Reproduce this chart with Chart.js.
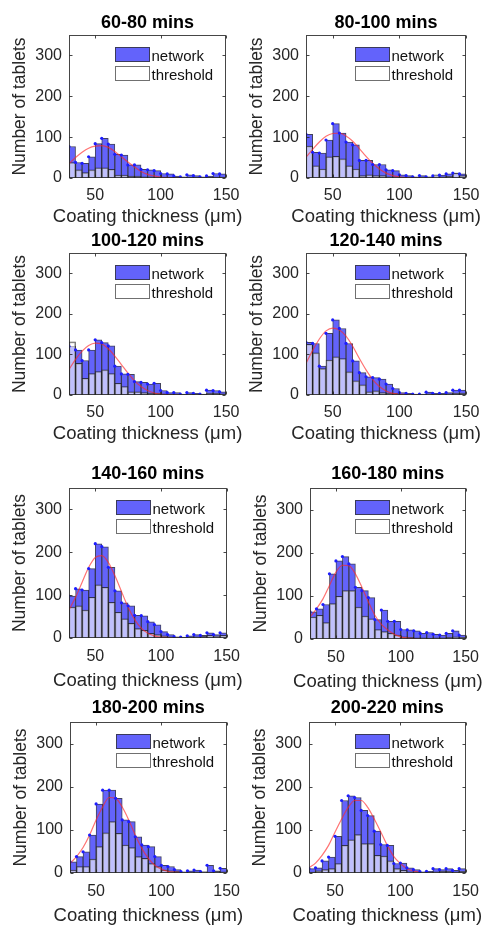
<!DOCTYPE html>
<html>
<head>
<meta charset="utf-8">
<script src="https://cdn.jsdelivr.net/npm/chart.js@4.4.0/dist/chart.umd.min.js"></script>
<style>
  html, body { margin: 0; padding: 0; background: #fff; }
  body { width: 487px; height: 925px; position: relative; overflow: hidden; }
  canvas { position: absolute; }
</style>
</head>
<body>
<script>
// bins of 5 um from 30 to 150
const binCenters = [32.5, 37.5, 42.5, 47.5, 52.5, 57.5, 62.5, 67.5, 72.5, 77.5, 82.5, 87.5,
  92.5, 97.5, 102.5, 107.5, 112.5, 117.5, 122.5, 127.5, 132.5, 137.5, 142.5, 147.5];
const binStarts = [30, 35, 40, 45, 50, 55, 60, 65, 70, 75, 80, 85,
  90, 95, 100, 105, 110, 115, 120, 125, 130, 135, 140, 145];
const fitX = [30, 35, 40, 45, 50, 55, 60, 65, 70, 75, 80, 85, 90, 95, 100, 105, 110, 115];
const xTicks = [50, 100, 150];
const yTicks = [0, 100, 200, 300];
const xAxisTitle = "Coating thickness (\u03bcm)";
const yAxisTitle = "Number of tablets";

const panelTitles = ["60-80 mins", "80-100 mins", "100-120 mins", "120-140 mins",
  "140-160 mins", "160-180 mins", "180-200 mins", "200-220 mins"];

const network6080 = [77, 38, 36, 52, 84, 97, 83, 58, 56, 32, 32, 21, 20, 18, 11, 10, 5, 3, 8, 6, 3, 5, 11, 10];
const threshold6080 = [38, 20, 13, 20, 25, 25, 21, 7, 7, 5, 5, 3, 3, 2, 2, 1, 1, 1, 1, 1, 1, 1, 2, 2];
const fit6080 = [35, 50, 63, 73, 78, 79, 75, 65, 52, 39, 27, 16, 9, 5, 2, 1, 0, 0];

const network80100 = [107, 63, 61, 93, 133, 110, 88, 81, 43, 43, 33, 33, 20, 18, 8, 6, 3, 6, 3, 5, 7, 10, 12, 10];
const threshold80100 = [78, 30, 22, 52, 53, 47, 30, 22, 6, 8, 6, 6, 3, 3, 2, 2, 1, 2, 2, 8, 3, 4, 12, 6];
const fit80100 = [51, 70, 88, 102, 109, 110, 103, 90, 72, 53, 36, 22, 12, 6, 3, 1, 0, 0];

const network100120 = [120, 111, 85, 111, 136, 129, 121, 71, 52, 51, 33, 31, 27, 29, 11, 6, 6, 2, 6, 4, 2, 12, 11, 8];
const threshold100120 = [131, 78, 41, 53, 58, 62, 53, 29, 21, 8, 8, 6, 5, 5, 3, 2, 2, 1, 2, 2, 1, 4, 4, 3];
const fit100120 = [63, 88, 108, 122, 128, 126, 114, 96, 75, 54, 35, 21, 11, 5, 2, 1, 0, 0];

const network120140 = [130, 127, 71, 152, 185, 164, 127, 84, 55, 45, 43, 39, 27, 16, 6, 4, 2, 2, 7, 4, 4, 6, 12, 12];
const threshold120140 = [125, 104, 65, 86, 94, 90, 57, 35, 25, 8, 10, 6, 5, 4, 2, 2, 1, 1, 3, 2, 2, 3, 4, 5];
const fit120140 = [78, 110, 138, 158, 165, 160, 145, 120, 90, 62, 38, 21, 10, 4, 2, 1, 0, 0];

const network140160 = [98, 115, 112, 162, 220, 213, 165, 110, 82, 75, 53, 52, 38, 31, 15, 8, 3, 2, 5, 8, 6, 12, 8, 12];
const threshold140160 = [72, 75, 65, 95, 124, 118, 83, 60, 45, 34, 22, 18, 11, 8, 5, 3, 2, 1, 2, 3, 4, 6, 5, 6];
const fit140160 = [66, 95, 130, 165, 188, 192, 176, 145, 108, 72, 43, 23, 11, 5, 2, 1, 0, 0];

const network160180 = [63, 70, 80, 151, 181, 191, 174, 120, 112, 96, 45, 67, 41, 41, 22, 21, 19, 13, 15, 11, 9, 13, 19, 9];
const threshold160180 = [51, 55, 38, 82, 99, 112, 112, 74, 53, 47, 22, 17, 13, 9, 5, 4, 3, 3, 2, 3, 3, 4, 5, 4];
const fit160180 = [51, 70, 93, 124, 155, 171, 170, 151, 120, 86, 55, 34, 21, 11, 5, 2, 1, 0];

const network180200 = [26, 38, 49, 88, 160, 192, 192, 173, 123, 119, 84, 65, 61, 38, 18, 15, 8, 3, 5, 7, 3, 18, 5, 11];
const threshold180200 = [7, 15, 15, 32, 61, 93, 119, 92, 65, 59, 38, 34, 22, 15, 7, 5, 4, 2, 3, 3, 3, 2, 4, 3];
const fit180200 = [22, 38, 59, 88, 123, 153, 175, 173, 153, 123, 88, 57, 34, 18, 9, 4, 2, 1];

const network200220 = [10, 12, 28, 37, 85, 168, 179, 175, 145, 133, 97, 66, 64, 22, 23, 12, 8, 3, 4, 10, 8, 10, 6, 10];
const threshold200220 = [2, 5, 8, 10, 22, 64, 77, 89, 68, 68, 41, 39, 28, 10, 6, 3, 3, 2, 2, 3, 4, 4, 3, 4];
const fit200220 = [12, 23, 41, 64, 95, 125, 152, 168, 168, 152, 125, 95, 64, 38, 22, 10, 5, 2];

const networkSets = [network6080, network80100, network100120, network120140,
  network140160, network160180, network180200, network200220];
const thresholdSets = [threshold6080, threshold80100, threshold100120, threshold120140,
  threshold140160, threshold160180, threshold180200, threshold200220];
const fitSets = [fit6080, fit80100, fit100120, fit120140,
  fit140160, fit160180, fit180200, fit200220];

// plot box of every panel in page pixels: left, top, right, bottom
const panelBoxes = [
  [69, 35, 230, 178], [306, 35, 470, 178],
  [69, 253, 230, 395], [306, 253, 470, 395],
  [69, 488, 232, 638], [310, 488, 471, 639],
  [70, 722, 232, 873], [309, 722, 471, 873]
];

const FONT = "'Liberation Sans', Arial, sans-serif";
const Y_AXIS_W = 59;
const RIGHT_PAD = 17;

const boxPlugin = {
  id: "box",
  afterDatasetsDraw(chart) {
    const { ctx, chartArea: a, scales } = chart;
    const l = Math.round(a.left) + 0.5, r = Math.round(a.right) - 0.5;
    const t = Math.round(a.top) + 0.5, b = Math.round(a.bottom) - 0.5;
    ctx.save();
    ctx.strokeStyle = "rgba(38,38,38,0.85)";
    ctx.lineWidth = 1;
    ctx.strokeRect(l, t, r - l, b - t);
    ctx.beginPath();
    scales.x.ticks.forEach((tk) => {
      const px = Math.round(scales.x.getPixelForValue(tk.value)) + 0.5;
      ctx.moveTo(px, b); ctx.lineTo(px, b - 3);
      ctx.moveTo(px, t); ctx.lineTo(px, t + 3);
    });
    scales.y.ticks.forEach((tk) => {
      const py = Math.round(scales.y.getPixelForValue(tk.value)) + 0.5;
      ctx.moveTo(l, py); ctx.lineTo(l + 3, py);
      ctx.moveTo(r, py); ctx.lineTo(r - 3, py);
    });
    ctx.stroke();
    ctx.restore();
  }
};

// x title drawn here so that it can run wider than the plot box, as in the original
const xTitlePlugin = {
  id: "xTitle",
  afterDraw(chart) {
    const { ctx, chartArea: a } = chart;
    ctx.save();
    ctx.fillStyle = "#262626";
    ctx.font = "18.5px " + FONT;
    ctx.textAlign = "center";
    ctx.textBaseline = "middle";
    ctx.fillText(xAxisTitle, (a.left + a.right) / 2, chart.height - 10);
    ctx.restore();
  }
};

const legendPlugin = {
  id: "innerLegend",
  afterDraw(chart) {
    const { ctx, chartArea: a } = chart;
    const items = ["network", "threshold"].map((name) =>
      chart.data.datasets.find((d) => d.label === name));
    ctx.save();
    items.forEach((ds, i) => {
      const x = Math.round(a.right) - 111 + 0.5;
      const y = Math.round(a.top) + 12 + i * 19 + 0.5;
      ctx.fillStyle = "#fff";
      ctx.fillRect(x, y, 34, 14);
      ctx.fillStyle = ds.backgroundColor;
      ctx.fillRect(x, y, 34, 14);
      ctx.strokeStyle = i === 0 ? "#3a3a5a" : "#707070";
      ctx.lineWidth = 1;
      ctx.strokeRect(x, y, 34, 14);
      ctx.fillStyle = "#111";
      ctx.font = "15px " + FONT;
      ctx.textBaseline = "alphabetic";
      ctx.fillText(ds.label, x + 36, y + 13);
    });
    ctx.restore();
  }
};

function makeChart(i) {
  const [L, T, R, B] = panelBoxes[i];
  const lowerRows = i >= 4;
  const titleGap = lowerRows ? 4 : 2;
  const xAxisH = lowerRows ? 53 : 49;
  const tickPad = lowerRows ? 9 : 7.5;
  const left = L - Y_AXIS_W;
  const top = T - (20 + titleGap);
  const w = R + RIGHT_PAD - left;
  const h = B + xAxisH - top;

  const canvas = document.createElement("canvas");
  canvas.width = w;
  canvas.height = h;
  canvas.style.left = left + "px";
  canvas.style.top = top + "px";
  document.body.appendChild(canvas);

  const net = networkSets[i], thr = thresholdSets[i], fit = fitSets[i];

  new Chart(canvas, {
    type: "bar",
    data: {
      datasets: [
        {
          type: "line",
          label: "points",
          data: binStarts.map((x, k) => ({ x: x, y: net[k] })),
          showLine: false,
          pointRadius: 1.6,
          pointBackgroundColor: "#1c1cff",
          pointBorderWidth: 0,
          order: -1
        },
        {
          type: "line",
          label: "fit",
          data: fitX.map((x, k) => ({ x: x, y: fit[k] })),
          borderColor: "rgba(255,40,40,0.65)",
          borderWidth: 1.2,
          pointRadius: 0,
          cubicInterpolationMode: "monotone",
          order: 0
        },
        {
          label: "threshold",
          data: binCenters.map((x, k) => ({ x: x, y: thr[k] })),
          backgroundColor: "rgba(255,255,255,0.6)",
          borderColor: "rgba(30,30,30,0.75)",
          borderWidth: 1,
          order: 1
        },
        {
          label: "network",
          data: binCenters.map((x, k) => ({ x: x, y: net[k] })),
          backgroundColor: "#6363fb",
          borderColor: "rgba(20,20,50,0.8)",
          borderWidth: 1,
          order: 2
        }
      ]
    },
    options: {
      responsive: false,
      animation: false,
      grouped: false,
      barPercentage: 1,
      categoryPercentage: 1,
      layout: { padding: { left: 0, right: RIGHT_PAD, top: 0, bottom: 0 } },
      plugins: {
        legend: { display: false },
        tooltip: { enabled: false },
        title: {
          display: true,
          text: panelTitles[i],
          fullSize: false,
          color: "#000",
          font: { family: FONT, size: 18, weight: "bold", lineHeight: "20px" },
          padding: { top: 0, bottom: titleGap }
        }
      },
      scales: {
        x: {
          type: "linear",
          min: 30,
          max: 150,
          offset: false,
          grid: { display: false, drawTicks: false, offset: false },
          border: { display: false },
          afterBuildTicks: (s) => { s.ticks = xTicks.map((v) => ({ value: v })); },
          afterFit: (s) => { s.height = xAxisH; },
          ticks: {
            color: "#262626",
            padding: tickPad,
            maxRotation: 0,
            font: { family: FONT, size: 16 }
          },
          title: { display: false }
        },
        y: {
          min: 0,
          max: 350,
          grid: { display: false, drawTicks: false },
          border: { display: false },
          afterBuildTicks: (s) => { s.ticks = yTicks.map((v) => ({ value: v })); },
          afterFit: (s) => { s.width = Y_AXIS_W; },
          ticks: {
            color: "#262626",
            padding: 7,
            font: { family: FONT, size: 16 }
          },
          title: {
            display: true,
            text: yAxisTitle,
            color: "#262626",
            padding: 0,
            font: { family: FONT, size: 17.5, lineHeight: "20px" }
          }
        }
      }
    },
    plugins: [boxPlugin, legendPlugin, xTitlePlugin]
  });
}

for (let i = 0; i < panelTitles.length; i++) makeChart(i);
</script>
</body>
</html>
